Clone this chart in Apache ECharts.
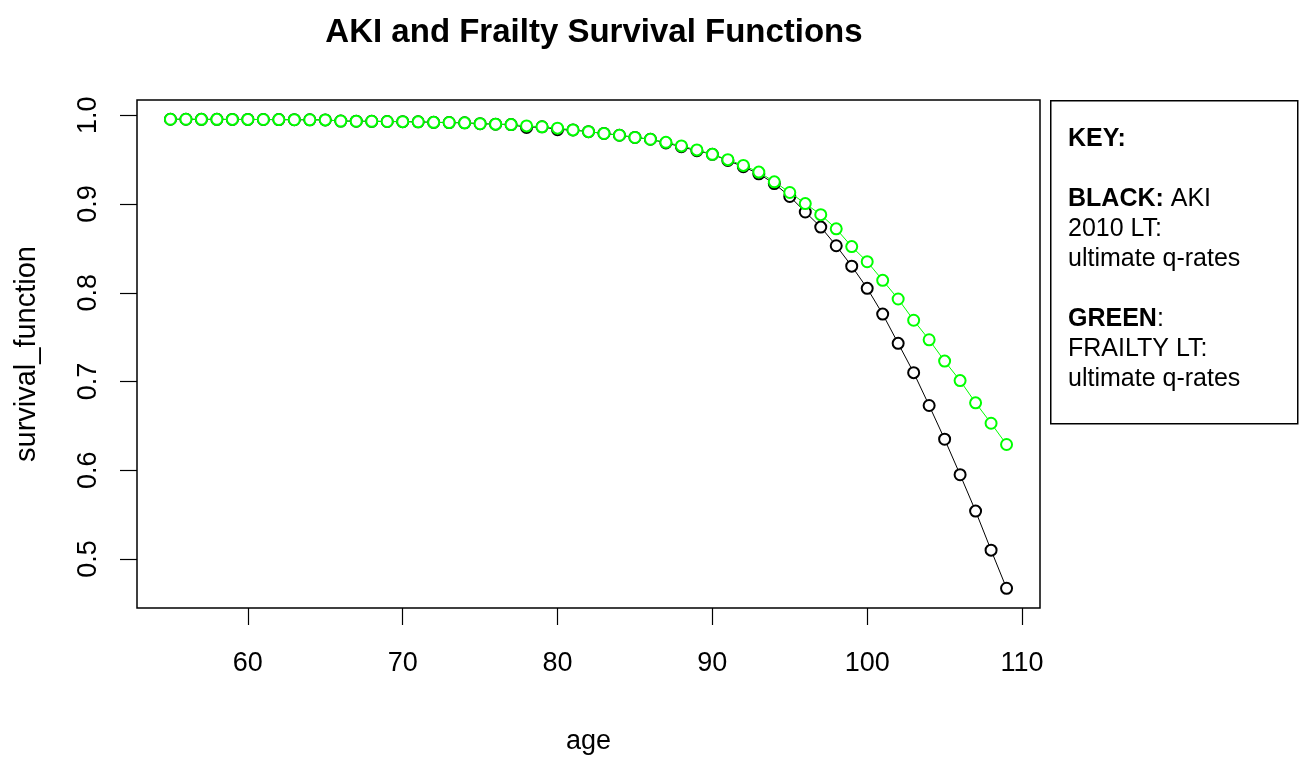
<!DOCTYPE html>
<html>
<head>
<meta charset="utf-8">
<script src="https://cdn.jsdelivr.net/npm/echarts@6/dist/echarts.min.js"></script>
<style>
    html, body { margin: 0; padding: 0; background: #fff; }
    #chart { width: 1302px; height: 757px; }
</style>
</head>
<body>
<div id="chart"></div>
<script>
// ages 55..109
const ages = [55, 56, 57, 58, 59, 60, 61, 62, 63, 64, 65, 66, 67, 68, 69, 70, 71, 72, 73, 74,
    75, 76, 77, 78, 79, 80, 81, 82, 83, 84, 85, 86, 87, 88, 89, 90, 91, 92, 93, 94,
    95, 96, 97, 98, 99, 100, 101, 102, 103, 104, 105, 106, 107, 108, 109];

// AKI 2010 LT (black)
const akiValues = [0.9955, 0.9955, 0.9954, 0.9954, 0.9953, 0.9953, 0.9952, 0.9951, 0.9950, 0.9949,
    0.9948, 0.9935, 0.9933, 0.9932, 0.9930, 0.9928, 0.9926, 0.9920, 0.9918, 0.9915,
    0.9905, 0.9900, 0.9895, 0.9862, 0.9870, 0.9838, 0.9835, 0.9815, 0.9795, 0.9775,
    0.9750, 0.9730, 0.9688, 0.9645, 0.9600, 0.9560, 0.9490, 0.9420, 0.9340, 0.9230,
    0.9085, 0.8910, 0.8740, 0.8530, 0.8300, 0.8050, 0.7760, 0.7430, 0.7100, 0.6730,
    0.6350, 0.5950, 0.5540, 0.5100, 0.4670];

// FRAILTY LT (green)
const frailtyValues = [0.9955, 0.9955, 0.9954, 0.9954, 0.9953, 0.9953, 0.9952, 0.9951, 0.9950, 0.9949,
    0.9948, 0.9935, 0.9933, 0.9932, 0.9930, 0.9928, 0.9926, 0.9920, 0.9918, 0.9915,
    0.9905, 0.9900, 0.9895, 0.9880, 0.9870, 0.9855, 0.9835, 0.9815, 0.9795, 0.9775,
    0.9750, 0.9730, 0.9695, 0.9655, 0.9610, 0.9560, 0.9500, 0.9435, 0.9360, 0.9250,
    0.9130, 0.9005, 0.8880, 0.8720, 0.8520, 0.8350, 0.8140, 0.7930, 0.7690, 0.7470,
    0.7230, 0.7010, 0.6760, 0.6530, 0.6290];

const xTicks = [60, 70, 80, 90, 100, 110];
const yTicks = [0.5, 0.6, 0.7, 0.8, 0.9, 1.0];

const font = 'Liberation Sans, Arial, sans-serif';

const pairs = (ys) => ages.map((a, i) => [a, ys[i]]);

const chart = echarts.init(document.getElementById('chart'));

const option = {
    backgroundColor: '#fff',
    animation: false,
    title: {
        text: 'AKI and Frailty Survival Functions',
        left: 589,
        top: 11,
        textAlign: 'center',
        textStyle: {
            fontFamily: font,
            fontWeight: 'bold',
            fontSize: 33,
            color: '#000'
        }
    },
    grid: {
        left: 137,
        right: 262,
        top: 100,
        bottom: 149,
        outerBoundsMode: 'none',
        show: true,
        borderColor: '#000',
        borderWidth: 1.5,
        backgroundColor: 'transparent'
    },
    xAxis: {
        type: 'value',
        min: 52.84,
        max: 111.16,
        name: 'age',
        nameLocation: 'middle',
        nameGap: 120,
        nameTextStyle: { fontFamily: font, fontSize: 27, color: '#000' },
        axisLine: { show: false },
        splitLine: { show: false },
        axisTick: {
            show: true,
            length: 17,
            customValues: xTicks,
            lineStyle: { color: '#000', width: 1.2 }
        },
        axisLabel: {
            customValues: xTicks,
            margin: 42,
            fontFamily: font,
            fontSize: 27,
            color: '#000'
        }
    },
    yAxis: {
        type: 'value',
        min: 0.4448,
        max: 1.0172,
        name: 'survival_function',
        nameLocation: 'middle',
        nameGap: 96,
        nameTextStyle: { fontFamily: font, fontSize: 29, color: '#000' },
        axisLine: { show: false },
        splitLine: { show: false },
        axisTick: {
            show: true,
            length: 17,
            customValues: yTicks,
            lineStyle: { color: '#000', width: 1.2 }
        },
        axisLabel: {
            customValues: yTicks,
            rotate: 90,
            margin: 35,
            fontFamily: font,
            fontSize: 27,
            color: '#000',
            formatter: (v) => v.toFixed(1)
        }
    },
    series: [
        {
            name: 'AKI 2010 LT',
            type: 'line',
            data: pairs(akiValues),
            symbol: 'emptyCircle',
            symbolSize: 11,
            itemStyle: { color: '#000', borderColor: '#000', borderWidth: 1 },
            lineStyle: { color: '#000', width: 1 },
            z: 2
        },
        {
            name: 'FRAILTY LT',
            type: 'line',
            data: pairs(frailtyValues),
            symbol: 'emptyCircle',
            symbolSize: 11,
            itemStyle: { color: '#00ff00', borderColor: '#00ff00', borderWidth: 1 },
            lineStyle: { color: '#00ff00', width: 1 },
            z: 3
        }
    ],
    // key box on the right
    graphic: [
        {
            type: 'rect',
            left: 1050,
            top: 100,
            shape: { width: 247, height: 323 },
            style: { fill: '#fff', stroke: '#000', lineWidth: 1.5 }
        },
        {
            type: 'text',
            left: 1068,
            top: 124,
            style: {
                text: '{b|KEY:}\n\n{b|BLACK:} AKI\n2010 LT:\nultimate q-rates\n\n{b|GREEN}:\nFRAILTY LT:\nultimate q-rates',
                fontFamily: font,
                fontSize: 25,
                lineHeight: 30,
                fill: '#000',
                rich: {
                    b: { fontFamily: font, fontSize: 25, fontWeight: 'bold', lineHeight: 30, fill: '#000' }
                }
            }
        }
    ]
};

chart.setOption(option);
</script>
</body>
</html>
